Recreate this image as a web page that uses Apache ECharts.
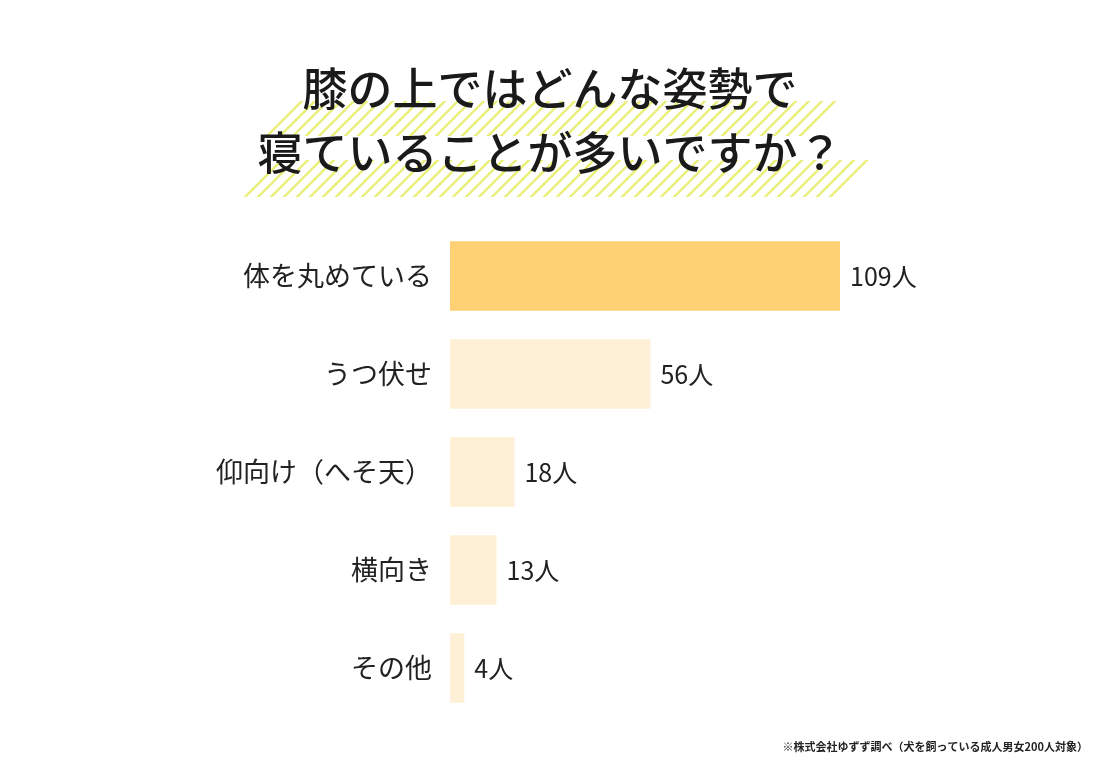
<!DOCTYPE html>
<html><head><meta charset="utf-8">
<script src="https://cdn.jsdelivr.net/npm/echarts@6/dist/echarts.min.js"></script>
<style>html,body{margin:0;padding:0;background:#fff;}#c{width:1100px;height:763px;}</style>
</head><body><div id="c"></div>
<script>
const titleLines = ['膝の上ではどんな姿勢で', '寝ていることが多いですか？'];
const categories = ['体を丸めている', 'うつ伏せ', '仰向け（へそ天）', '横向き', 'その他'];
const values = [109, 56, 18, 13, 4];
const unit = '人';
const note = '※株式会社ゆずず調べ（犬を飼っている成人男女200人対象）';

const FONT = '"Noto Sans CJK JP","Noto Sans",sans-serif';

function makePattern() {
  const s = 13;
  const cv = document.createElement('canvas');
  cv.width = s; cv.height = s;
  const ctx = cv.getContext('2d');
  ctx.strokeStyle = '#E9EF78';
  ctx.lineWidth = 2.4;
  ctx.beginPath();
  ctx.moveTo(-s, s * 2); ctx.lineTo(s * 2, -s);
  ctx.moveTo(-s, s); ctx.lineTo(s, -s);
  ctx.moveTo(0, s * 2); ctx.lineTo(s * 2, 0);
  ctx.stroke();
  return { image: cv, repeat: 'repeat' };
}
const pat = makePattern();

const chart = echarts.init(document.getElementById('c'), null, { renderer: 'canvas' });
chart.setOption({
  backgroundColor: '#fff',
  animation: false,
  grid: { left: 450, top: 227, height: 490, width: 429.4, containLabel: false },
  xAxis: { type: 'value', min: 0, max: 120, show: false },
  yAxis: {
    type: 'category', data: categories, inverse: true,
    axisLine: { show: false }, axisTick: { show: false },
    axisLabel: { margin: 18, fontSize: 27, color: '#222', fontFamily: FONT }
  },
  series: [{
    type: 'bar',
    data: values.map((v, i) => ({ value: v, itemStyle: { color: i === 0 ? '#FDD174' : '#FDF0D6' } })),
    barWidth: '71%',
    label: {
      show: true, position: 'right', distance: 10,
      formatter: p => p.value + unit,
      fontSize: 25, color: '#222', fontFamily: FONT
    }
  }],
  graphic: [
    { type: 'polygon', z: 0, shape: { points: [[262, 136], [297, 101], [840, 101], [805, 136]] }, style: { fill: pat } },
    { type: 'polygon', z: 0, shape: { points: [[237, 197], [274, 160], [872, 160], [835, 197]] }, style: { fill: pat } },
    { type: 'text', z: 10, left: 'center', top: 66, style: { text: titleLines[0], font: '500 45px ' + FONT, fill: '#1a1a1a' } },
    { type: 'text', z: 10, left: 'center', top: 130, style: { text: titleLines[1], font: '500 45px ' + FONT, fill: '#1a1a1a' } },
    { type: 'text', z: 10, right: 12, top: 741, style: { text: note, font: 'bold 11px ' + FONT, fill: '#222' } }
  ]
});
</script></body></html>
